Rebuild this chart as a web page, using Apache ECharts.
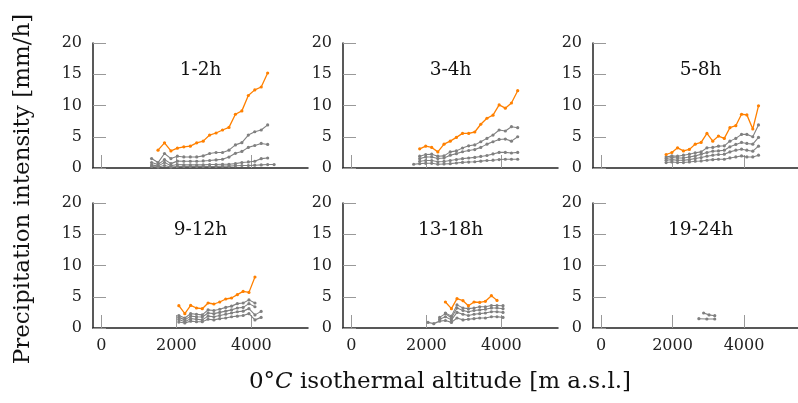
<!DOCTYPE html>
<html>
<head>
<meta charset="utf-8">
<script src="https://cdn.jsdelivr.net/npm/echarts@6/dist/echarts.min.js"></script>
<style>html,body{margin:0;padding:0;background:#fff}#c{width:798px;height:403px}</style>
</head>
<body>
<div id="c"></div>
<script>
// ---- data ----
var panelTitles = ['1-2h', '3-4h', '5-8h', '9-12h', '13-18h', '19-24h'];
var xTicks = [0, 2000, 4000];
var yTicks = [0, 5, 10, 15, 20];

// panel 1 (1-2h)
var x1 = [1338,1510,1682,1854,2026,2198,2370,2542,2714,2886,3058,3230,3402,3574,3746,3918,4090,4262,4434,4606];
var p1_orange = [null,2.85,4.03,2.74,3.18,3.39,3.5,4.03,4.3,5.27,5.6,6.08,6.5,8.6,9.14,11.6,12.5,12.96,15.2];
var p1_g1 = [1.51,0.87,2.32,1.51,1.89,1.77,1.77,1.77,1.94,2.32,2.48,2.48,2.85,3.7,4.06,5.27,5.8,6.08,6.89];
var p1_g2 = [0.87,0.55,1.35,0.7,1.1,1.08,1.08,1.08,1.13,1.2,1.3,1.4,1.75,2.35,2.65,3.3,3.6,3.93,3.77];
var p1_g3 = [0.5,0.3,0.9,0.35,0.55,0.5,0.5,0.5,0.5,0.55,0.55,0.6,0.6,0.7,0.87,0.97,1.08,1.5,1.6];
var p1_g4 = [0.25,0.15,0.4,0.15,0.25,0.25,0.25,0.25,0.25,0.25,0.25,0.3,0.3,0.35,0.4,0.4,0.45,0.5,0.55,0.55];

// panel 2 (3-4h)
var x2 = [1661,1821,1981,2141,2305,2470,2635,2800,2963,3128,3290,3450,3615,3776,3940,4105,4268,4435];
var p2_orange = [null,3.07,3.5,3.29,2.58,3.82,4.3,4.9,5.54,5.54,5.76,7.0,7.96,8.45,10.1,9.57,10.4,12.37];
var p2_g1 = [null,1.89,2.16,2.21,1.89,1.94,2.58,2.74,3.2,3.55,3.7,4.2,4.74,5.27,6.08,5.92,6.61,6.45];
var p2_g2 = [null,1.5,1.77,1.77,1.51,1.61,2.05,2.3,2.6,2.8,2.95,3.3,3.82,4.2,4.57,4.63,4.3,5.0];
var p2_g3 = [null,1.08,1.2,1.2,1.0,1.05,1.2,1.35,1.5,1.6,1.7,1.85,2.0,2.25,2.5,2.5,2.4,2.5];
var p2_g4 = [0.6,0.7,0.75,0.75,0.6,0.65,0.7,0.8,0.9,0.95,1.0,1.1,1.2,1.25,1.35,1.4,1.4,1.4];

// panel 3 (5-8h)
var x3 = [1821,1981,2141,2305,2470,2635,2800,2963,3125,3285,3448,3605,3770,3930,4080,4245,4405];
var p3_orange = [2.16,2.48,3.23,2.74,2.97,3.82,4.09,5.54,4.3,5.11,4.74,6.45,6.77,8.6,8.5,6.24,9.95];
var p3_g1 = [1.77,1.94,1.89,2.05,2.21,2.43,2.58,3.23,3.29,3.5,3.55,4.3,4.74,5.38,5.38,5.0,6.89];
var p3_g2 = [1.51,1.67,1.61,1.61,1.77,1.94,2.21,2.48,2.69,2.74,2.85,3.39,3.77,4.09,3.93,3.82,4.9];
var p3_g3 = [1.24,1.34,1.24,1.24,1.34,1.51,1.67,1.89,2.05,2.16,2.21,2.58,2.85,3.01,2.85,2.69,3.5];
var p3_g4 = [0.87,0.97,0.87,0.87,0.97,1.08,1.13,1.24,1.34,1.4,1.4,1.61,1.77,1.94,1.77,1.77,2.05];

// panel 4 (9-12h)
var x4 = [2065,2225,2380,2535,2690,2845,3000,3155,3315,3470,3625,3780,3935,4095,4260];
var p4_orange = [3.57,2.29,3.62,3.2,3.09,4.0,3.84,4.16,4.64,4.8,5.33,5.86,5.7,8.16];
var p4_g1 = [2.0,1.6,2.3,2.2,2.1,2.9,2.8,3.0,3.3,3.5,3.9,4.0,4.5,4.0];
var p4_g2 = [1.7,1.3,1.9,1.8,1.75,2.4,2.3,2.5,2.7,2.9,3.2,3.3,3.9,3.4];
var p4_g3 = [1.35,1.0,1.5,1.4,1.3,1.9,1.8,2.0,2.2,2.4,2.6,2.7,3.1,2.1,2.66];
var p4_g4 = [0.95,0.8,1.1,1.0,1.0,1.4,1.3,1.5,1.6,1.8,1.9,2.0,2.3,1.3,1.7];

// panel 5 (13-18h)
var x5 = [2043,2197,2352,2507,2667,2816,2976,3120,3270,3421,3573,3733,3883,4043];
var p5_orange = [null,null,null,4.16,3.09,4.69,4.37,3.57,4.16,4.1,4.27,5.17,4.42];
var p5_g1 = [null,null,null,2.4,1.9,3.7,3.2,3.1,3.2,3.4,3.4,3.6,3.6,3.57];
var p5_g2 = [null,null,1.7,2.3,1.6,3.2,2.8,2.6,2.8,2.9,3.0,3.2,3.2,3.09];
var p5_g3 = [null,null,1.4,1.8,1.3,2.5,2.2,2.0,2.2,2.3,2.4,2.6,2.6,2.5];
var p5_g4 = [0.9,0.7,1.1,1.2,0.9,1.6,1.3,1.4,1.5,1.6,1.6,1.8,1.8,1.7];

// panel 6 (19-24h)
var x6a = [2737,2960,3181];
var p6_g1 = [1.49,1.44,1.44];
var x6b = [2870,3022,3181];
var p6_g2 = [2.4,2.1,1.97];

// ---- layout ----
var FONT = 'DejaVu Serif';
var colLeft = [93, 343, 593];
var rowTop = [43, 203];
var gridW = 215, gridH = 125;
var GRAY = '#808080', ORANGE = '#ff8000';

function pairs(xs, ys) {
  var out = [];
  for (var i = 0; i < ys.length; i++) if (ys[i] != null) out.push([xs[i], ys[i]]);
  return out;
}

var panels = [
  [[x1,p1_g4],[x1,p1_g3],[x1,p1_g2],[x1,p1_g1],[x1,p1_orange,1]],
  [[x2,p2_g4],[x2,p2_g3],[x2,p2_g2],[x2,p2_g1],[x2,p2_orange,1]],
  [[x3,p3_g4],[x3,p3_g3],[x3,p3_g2],[x3,p3_g1],[x3,p3_orange,1]],
  [[x4,p4_g4],[x4,p4_g3],[x4,p4_g2],[x4,p4_g1],[x4,p4_orange,1]],
  [[x5,p5_g4],[x5,p5_g3],[x5,p5_g2],[x5,p5_g1],[x5,p5_orange,1]],
  [[x6a,p6_g1],[x6b,p6_g2]]
];

var grids = [], xAxes = [], yAxes = [], series = [], graphics = [];
for (var k = 0; k < 6; k++) {
  var r = Math.floor(k / 3), c = k % 3;
  grids.push({left: colLeft[c], top: rowTop[r], width: gridW, height: gridH, containLabel: false});
  xAxes.push({
    gridIndex: k, type: 'value', min: -225, max: 5510,
    axisLine: {show: true, onZero: false, lineStyle: {color: '#222', width: 1.5}},
    axisTick: {show: true, inside: true, length: 13, customValues: xTicks, lineStyle: {color: '#999', width: 1}},
    axisLabel: {show: r === 1, customValues: xTicks, fontFamily: FONT, fontSize: 16, color: '#222', margin: 10,
                formatter: function (v) { return String(v); }},
    splitLine: {show: false}
  });
  yAxes.push({
    gridIndex: k, type: 'value', min: 0, max: 20, interval: 5,
    axisLine: {show: true, onZero: false, lineStyle: {color: '#222', width: 1.5}},
    axisTick: {show: true, inside: true, length: 13, lineStyle: {color: '#999', width: 1}},
    axisLabel: {fontFamily: FONT, fontSize: 16, color: '#222', margin: 11,
                formatter: function (v) { return String(v); }},
    splitLine: {show: false}
  });
  graphics.push({
    type: 'text', x: colLeft[c] + gridW / 2, y: rowTop[r] + 27,
    style: {text: panelTitles[k], font: '18.5px "DejaVu Serif"', fill: '#111', align: 'center', verticalAlign: 'middle'}
  });
  panels[k].forEach(function (s) {
    var isO = !!s[2];
    series.push({
      type: 'line', xAxisIndex: k, yAxisIndex: k, data: pairs(s[0], s[1]),
      symbol: 'circle', symbolSize: 3.2, showSymbol: true,
      lineStyle: {color: isO ? ORANGE : GRAY, width: isO ? 1.3 : 1.1},
      itemStyle: {color: isO ? ORANGE : GRAY},
      z: isO ? 3 : 2, silent: true
    });
  });
}

graphics.push(
  {type: 'text', x: 23, y: 189, rotation: Math.PI / 2,
   style: {text: 'Precipitation intensity [mm/h]', font: '23px "DejaVu Serif"', fill: '#111', align: 'center', verticalAlign: 'middle'}},
  {type: 'text', x: 440, y: 382,
   style: {text: '0°{i|C} isothermal altitude [m a.s.l.]', font: '23px "DejaVu Serif"', fill: '#111', align: 'center', verticalAlign: 'middle',
     rich: {i: {fontStyle: 'italic', fontFamily: 'DejaVu Serif', fontSize: 23, fill: '#111'}}}}
);

var chart = echarts.init(document.getElementById('c'), null, {renderer: 'canvas'});
chart.setOption({
  animation: false,
  backgroundColor: '#fff',
  grid: grids,
  xAxis: xAxes,
  yAxis: yAxes,
  series: series,
  graphic: graphics
});
</script>
</body>
</html>
